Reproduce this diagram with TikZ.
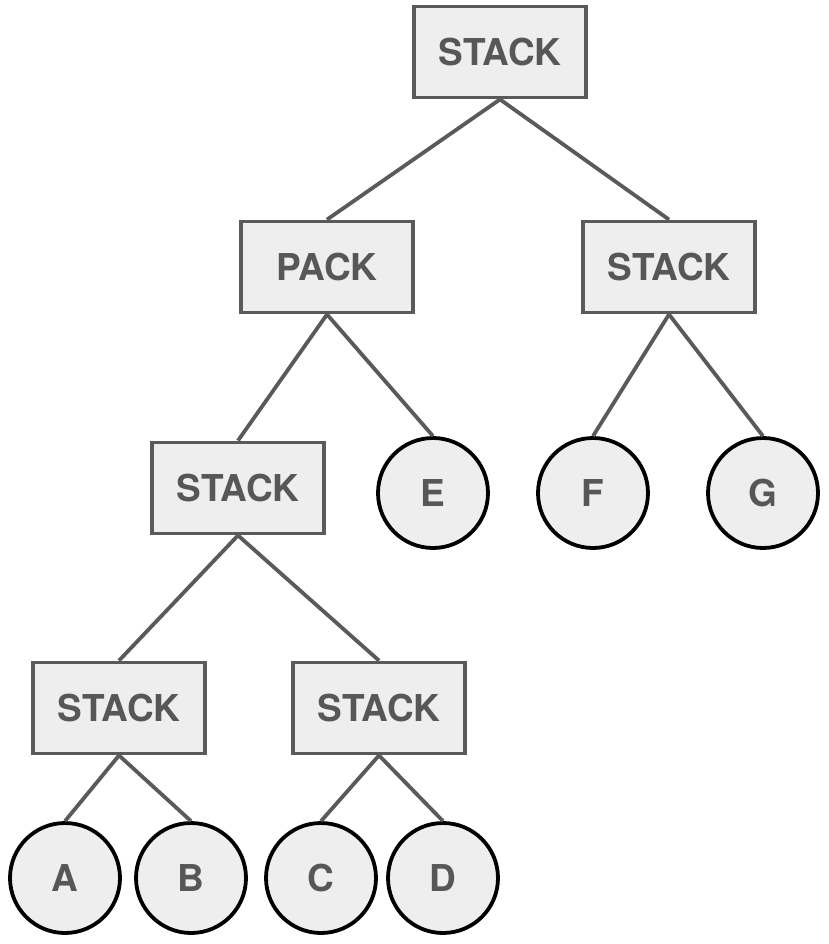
\documentclass[tikz,border=0pt]{standalone}
\usepackage{fontspec}
\setmainfont{TeX Gyre Heros}
\begin{document}
\begin{tikzpicture}[x=1pt,y=-1pt,
  every node/.style={font=\fontsize{37}{40}\selectfont\bfseries, text=txt},
  box/.style={draw=edge, fill=boxfill, line width=3.8pt, minimum width=172pt, minimum height=91pt, inner sep=0pt},
  leaf/.style={circle, draw=black, fill=boxfill, line width=3.8pt, minimum size=110pt, inner sep=0pt},
  link/.style={draw=edge, line width=3.8pt}]
\definecolor{txt}{HTML}{575757}
\definecolor{edge}{HTML}{5A5A5A}
\definecolor{boxfill}{HTML}{EEEEEE}
\useasboundingbox (0,0) rectangle (828,944);
\node[box] (s0) at (500,52) {STACK};
\node[box] (p) at (327,267) {PACK};
\node[box] (s1) at (669,267) {STACK};
\node[box] (s2) at (238,488) {STACK};
\node[box] (s3) at (119,708) {STACK};
\node[box] (s4) at (379,708) {STACK};
\node[leaf] (e) at (433,493) {E};
\node[leaf] (f) at (593,493) {F};
\node[leaf] (g) at (763,493) {G};
\node[leaf] (a) at (65,878) {A};
\node[leaf] (b) at (191,878) {B};
\node[leaf] (c) at (321,878) {C};
\node[leaf] (d) at (443,878) {D};
\path[link] (s0.south) -- (p.north);
\path[link] (s0.south) -- (s1.north);
\path[link] (p.south) -- (s2.north);
\path[link] (p.south) -- (e.north);
\path[link] (s1.south) -- (f.north);
\path[link] (s1.south) -- (g.north);
\path[link] (s2.south) -- (s3.north);
\path[link] (s2.south) -- (s4.north);
\path[link] (s3.south) -- (a.north);
\path[link] (s3.south) -- (b.north);
\path[link] (s4.south) -- (c.north);
\path[link] (s4.south) -- (d.north);
\end{tikzpicture}
\end{document}
